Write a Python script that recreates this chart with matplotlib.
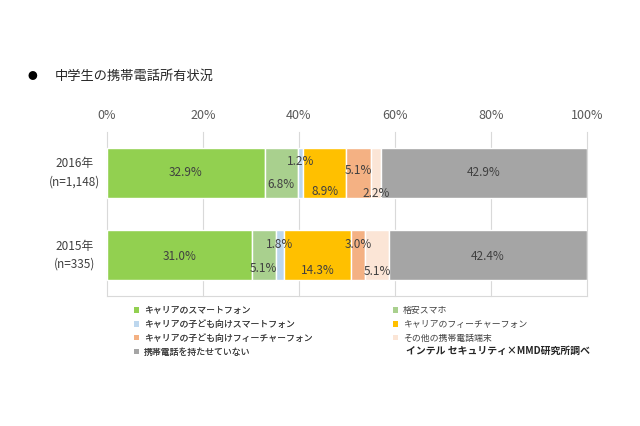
import matplotlib
matplotlib.use('Agg')
from matplotlib import pyplot as plt
from matplotlib.patches import Patch

plt.rcParams['font.family'] = ['Noto Sans CJK JP', 'DejaVu Sans']

# データ
years = ['2015年\n(n=335)', '2016年\n(n=1,148)']
series = ['キャリアのスマートフォン', '格安スマホ', 'キャリアの子ども向けスマートフォン',
          'キャリアのフィーチャーフォン', 'キャリアの子ども向けフィーチャーフォン',
          'その他の携帯電話端末', '携帯電話を持たせていない']
values_2015 = [31.0, 5.1, 1.8, 14.3, 3.0, 5.1, 42.4]
values_2016 = [32.9, 6.8, 1.2, 8.9, 5.1, 2.2, 42.9]
colors = ['#92D050', '#A9D08E', '#BDD7EE', '#FFC000', '#F4B183', '#FBE5D6', '#A5A5A5']
xticks = [0, 20, 40, 60, 80, 100]

# ラベルの縦方向のずらし
offsets_2015 = [-0.02, -0.16, 0.13, -0.19, 0.13, -0.2, -0.02]
offsets_2016 = [0, -0.14, 0.14, -0.22, 0.03, -0.25, 0]

fig = plt.figure(figsize=(6.4, 4.26), dpi=100)
ax = fig.add_axes([107 / 640, 1 - 296 / 426, 480 / 640, 164 / 426])

rows = [values_2015, values_2016]
offs = [offsets_2015, offsets_2016]
for yi, (vals, off) in enumerate(zip(rows, offs)):
    total = sum(vals)
    left = 0
    for i, v in enumerate(vals):
        w = v / total * 100  # 100%積み上げ
        ax.barh(yi, w, left=left, height=0.6, color=colors[i], edgecolor='white', linewidth=1, zorder=3)
        ax.text(left + w / 2, yi + off[i], f'{v:.1f}%', ha='center', va='center',
                fontsize=8.5, color='#404040', zorder=4)
        left += w

ax.set_xlim(0, 100)
ax.set_ylim(-0.5, 1.5)
for x in xticks:
    ax.axvline(x, color='#D9D9D9', linewidth=0.8, zorder=1, clip_on=False)
for s in ['top', 'left', 'right']:
    ax.spines[s].set_visible(False)
ax.spines['bottom'].set_color('#D9D9D9')
ax.xaxis.tick_top()
ax.set_xticks(xticks)
ax.set_xticklabels([f'{x}%' for x in xticks], fontsize=9, color='#595959')
ax.tick_params(axis='x', length=0, pad=7)
ax.set_yticks([])
for yi, lab in enumerate(years):
    ax.text(-0.067, yi, lab, transform=ax.get_yaxis_transform(), ha='center', va='center',
            fontsize=8.5, color='#404040', linespacing=1.5)

# タイトル
fig.text(32 / 640, 1 - 76 / 426, '●', fontsize=7, va='center', ha='center', color='black')
fig.text(55 / 640, 1 - 76 / 426, '中学生の携帯電話所有状況', fontsize=9.5, va='center', color='#262626')

# 凡例
handles = [Patch(facecolor=c, edgecolor='none') for c in colors]
col1 = [0, 2, 4, 6]
col2 = [1, 3, 5]
leg_kw = dict(loc='upper left', frameon=False, fontsize=6.4, handlelength=0.6, handleheight=0.6,
              handletextpad=0.5, labelspacing=0.55, labelcolor='#404040')
leg1 = fig.legend([handles[i] for i in col1], [series[i] for i in col1],
                  bbox_to_anchor=(126 / 640, 1 - 298 / 426), **leg_kw)
fig.add_artist(leg1)
fig.legend([handles[i] for i in col2], [series[i] for i in col2],
           bbox_to_anchor=(385 / 640, 1 - 298 / 426), **leg_kw)

fig.text(590 / 640, 1 - 351 / 426, 'インテル セキュリティ×MMD研究所調べ', fontsize=7.1,
         fontweight='bold', ha='right', va='center', color='#262626')

fig.savefig('out.png', dpi=100)
